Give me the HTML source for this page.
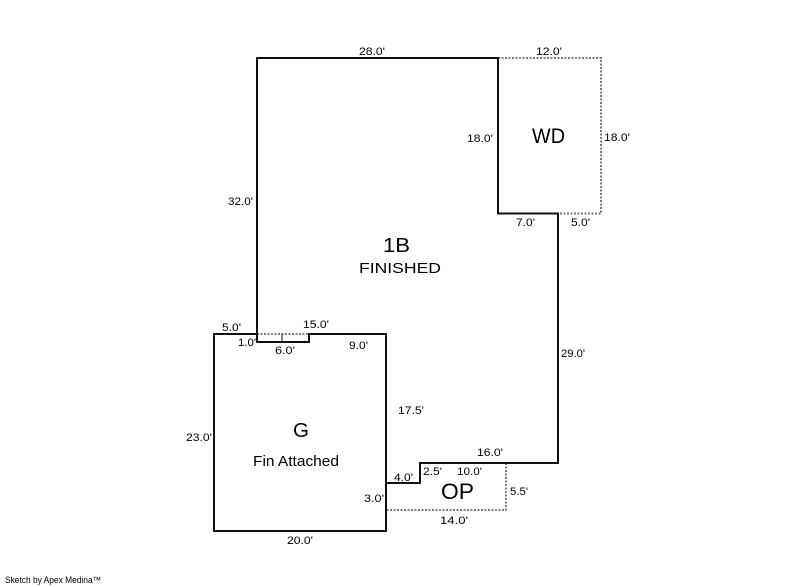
<!DOCTYPE html>
<html>
<head>
<meta charset="utf-8">
<style>
html,body{margin:0;padding:0;background:#fff;}
svg{display:block;}
text{font-family:"Liberation Sans",Arial,sans-serif;fill:#000;}
.d{font-size:11px;}
</style>
</head>
<body>
<svg width="800" height="587" viewBox="0 0 800 587" xmlns="http://www.w3.org/2000/svg">
  <rect width="800" height="587" fill="#fff"/>
  <!-- dashed (gray) lines -->
  <g fill="none" stroke="#7a7a7a" stroke-width="2" stroke-dasharray="2,1.5">
    <polyline points="498,58 601,58 601,213.5 558,213.5"/>
    <polyline points="506,463 506,510 386,510"/>
    <line x1="257" y1="334" x2="309" y2="334"/>
  </g>
  <!-- solid lines -->
  <g fill="none" stroke="#111" stroke-width="2" stroke-linecap="square">
    <polyline points="257,342 257,58 498,58 498,213.5 558,213.5 558,463 420,463 420,483 386,483"/>
    <polyline points="257,334 214,334 214,531 386,531 386,334 309,334"/>
    <polyline points="257,334 257,342 309,342 309,334"/>
  </g>
  <line x1="282" y1="334" x2="282" y2="342" stroke="#111" stroke-width="1"/>

  <!-- dimension labels -->
  <text class="d" x="359" y="55" textLength="26" lengthAdjust="spacingAndGlyphs">28.0'</text>
  <text class="d" x="536" y="55" textLength="26" lengthAdjust="spacingAndGlyphs">12.0'</text>
  <text class="d" x="467" y="142" textLength="26" lengthAdjust="spacingAndGlyphs">18.0'</text>
  <text class="d" x="604" y="141" textLength="26" lengthAdjust="spacingAndGlyphs">18.0'</text>
  <text class="d" x="228" y="205" textLength="25" lengthAdjust="spacingAndGlyphs">32.0'</text>
  <text class="d" x="516" y="226" textLength="19" lengthAdjust="spacingAndGlyphs">7.0'</text>
  <text class="d" x="571" y="226" textLength="19" lengthAdjust="spacingAndGlyphs">5.0'</text>
  <text class="d" x="561" y="357" textLength="24" lengthAdjust="spacingAndGlyphs">29.0'</text>
  <text class="d" x="222" y="331" textLength="19" lengthAdjust="spacingAndGlyphs">5.0'</text>
  <text class="d" x="303" y="328" textLength="26" lengthAdjust="spacingAndGlyphs">15.0'</text>
  <text class="d" x="238" y="346" textLength="18" lengthAdjust="spacingAndGlyphs">1.0'</text>
  <text class="d" x="275" y="354" textLength="20" lengthAdjust="spacingAndGlyphs">6.0'</text>
  <text class="d" x="349" y="349" textLength="19" lengthAdjust="spacingAndGlyphs">9.0'</text>
  <text class="d" x="398" y="414" textLength="26" lengthAdjust="spacingAndGlyphs">17.5'</text>
  <text class="d" x="186" y="441" textLength="26" lengthAdjust="spacingAndGlyphs">23.0'</text>
  <text class="d" x="477" y="456" textLength="26" lengthAdjust="spacingAndGlyphs">16.0'</text>
  <text class="d" x="423" y="475" textLength="19" lengthAdjust="spacingAndGlyphs">2.5'</text>
  <text class="d" x="457" y="475" textLength="25" lengthAdjust="spacingAndGlyphs">10.0'</text>
  <text class="d" x="394" y="481" textLength="19" lengthAdjust="spacingAndGlyphs">4.0'</text>
  <text class="d" x="510" y="495" textLength="18" lengthAdjust="spacingAndGlyphs">5.5'</text>
  <text class="d" x="364" y="502" textLength="20" lengthAdjust="spacingAndGlyphs">3.0'</text>
  <text class="d" x="440" y="524" textLength="28" lengthAdjust="spacingAndGlyphs">14.0'</text>
  <text class="d" x="287" y="544" textLength="26" lengthAdjust="spacingAndGlyphs">20.0'</text>

  <!-- area labels -->
  <text x="532" y="143" font-size="21" textLength="33" lengthAdjust="spacingAndGlyphs">WD</text>
  <text x="383" y="252" font-size="20" textLength="27" lengthAdjust="spacingAndGlyphs">1B</text>
  <text x="359" y="273" font-size="15" textLength="82" lengthAdjust="spacingAndGlyphs">FINISHED</text>
  <text x="293" y="437" font-size="20" textLength="16" lengthAdjust="spacingAndGlyphs">G</text>
  <text x="253" y="466" font-size="15" textLength="86" lengthAdjust="spacingAndGlyphs">Fin Attached</text>
  <text x="441" y="499" font-size="22" textLength="33" lengthAdjust="spacingAndGlyphs">OP</text>

  <text x="5" y="583" font-size="9" textLength="96" lengthAdjust="spacingAndGlyphs">Sketch by Apex Medina™</text>
</svg>
</body>
</html>
